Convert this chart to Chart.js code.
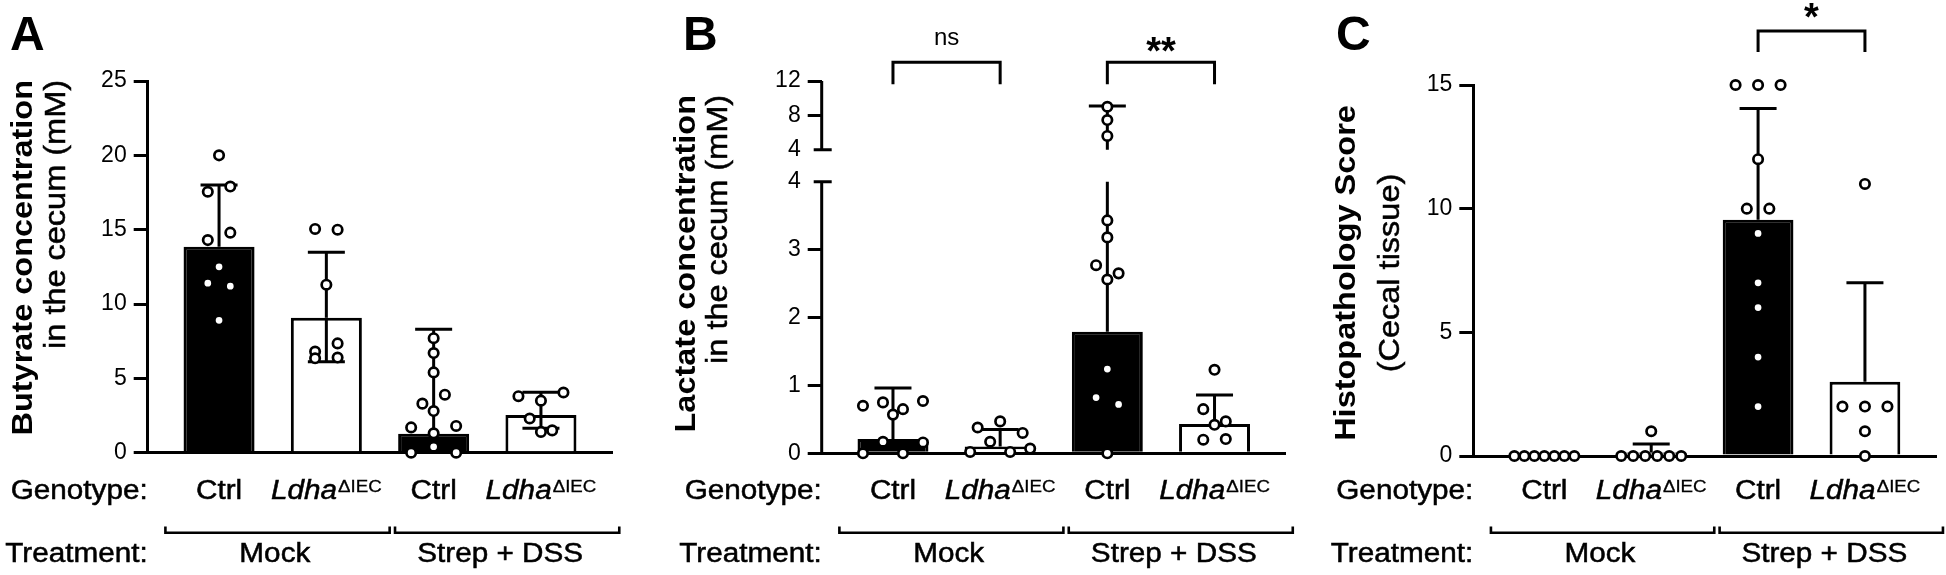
<!DOCTYPE html>
<html>
<head>
<meta charset="utf-8">
<script src="https://cdn.jsdelivr.net/npm/chart.js@4.4.1/dist/chart.umd.min.js"></script>
<style>
  html, body { margin: 0; padding: 0; background: #fff; }
  body { width: 1946px; height: 575px; position: relative; overflow: hidden; }
  canvas { position: absolute; top: 0; }
</style>
</head>
<body>
<canvas id="chartA" width="660" height="575" style="left:0px"></canvas>
<canvas id="chartB" width="640" height="575" style="left:660px"></canvas>
<canvas id="chartC" width="646" height="575" style="left:1300px"></canvas>
<script>
// ---- data ----
const genotypes = ['Ctrl', 'Ldha', 'Ctrl', 'Ldha'];
const genotypeSup = ['', 'ΔIEC', '', 'ΔIEC'];
const treatments = ['Mock', 'Strep + DSS'];

// A: butyrate (mM)
const butyrateMean = [13.85, 9.08, 1.28, 2.54];
const butyrateHigh = [18.0, 13.48, 8.3, 4.06];
const butyrateLow = [null, 6.12, null, 1.64];
const butyratePoints = [
  [20.0, 17.55, 17.9, 14.3, 14.8, 12.5, 11.4, 11.2, 8.9],
  [15.05, 15.0, 11.3, 6.8, 7.35, 6.35, 6.4],
  [7.7, 6.7, 5.4, 3.3, 3.9, 2.8, 1.7, 1.3, 1.8, 0, 0.4, 0],
  [3.8, 3.5, 4.05, 2.3, 1.4, 1.5]
];
const butyrateTicks = [0, 5, 10, 15, 20, 25];

// B: lactate (mM), axis broken at 4
const lactateMean = [0.21, 0.10, 1.79, 0.43];
const lactateHigh = [0.96, 0.35, 9.1, 0.86];
const lactateLow = [null, null, null, null];
const lactatePoints = [
  [0.70, 0.75, 0.65, 0.77, 0.57, 0, 0.17, 0, 0.16],
  [0.38, 0.47, 0.30, 0.02, 0.17, 0.02, 0.07],
  [9.0, 7.45, 5.6, 3.43, 3.18, 2.77, 2.65, 2.56, 1.24, 0.82, 0.72, 0],
  [1.23, 0.65, 0.42, 0.47, 0.20, 0.21]
];
const lactateTicksLow = [0, 1, 2, 3, 4];
const lactateTicksHigh = [4, 8, 12];

// C: histopathology score
const histoMean = [0, 0.14, 9.55, 3.0];
const histoHigh = [null, 0.49, 14.05, 7.0];
const histoLow = [null, null, null, null];
const histoPoints = [
  [0, 0, 0, 0, 0, 0, 0],
  [0, 0, 0, 1, 0, 0, 0],
  [15, 15, 15, 12, 10, 10, 9, 7, 6, 4, 2],
  [11, 2, 2, 2, 1, 0]
];
const histoTicks = [0, 5, 10, 15];

// ---- look ----
const FONT = "'Liberation Sans', Arial, Helvetica, sans-serif";
const H = 575;
const LINE = 3;
const Y_AXIS_W = 80;
const X_MIN = -0.665, X_MAX = 3.665;
const CAP = 18.5;
const SX = 1.1;
const STEP = 22.5, SPAN = 60, ROW_TOL = 12.5;
const BAR_FILL = ['#000', '#fff', '#000', '#fff'];
const GROUP_SPANS = [[-0.5, 1.59], [1.64, 3.73]];
const TREAT_CENTERS = [0.52, 2.62];

Chart.defaults.font.family = FONT;
Chart.defaults.color = '#000';

// linear scale with a gap, used by panel B
const LinearScale = Chart.LinearScale || Chart.registry.getScale('linear');
class BrokenLinearScale extends LinearScale {
  getPixelForValue(value) {
    const brk = this.options.brk;
    if (!brk) return super.getPixelForValue(value);
    let dec;
    if (value <= brk.at) dec = (value - this.min) / (brk.at - this.min) * brk.lowFrac;
    else dec = brk.highFrac + (value - brk.at) / (this.max - brk.at) * (1 - brk.highFrac);
    return this.getPixelForDecimal(dec);
  }
  getValueForPixel(pixel) {
    const brk = this.options.brk;
    const dec = this.getDecimalForPixel(pixel);
    if (dec <= brk.lowFrac) return this.min + dec / brk.lowFrac * (brk.at - this.min);
    return brk.at + (dec - brk.highFrac) / (1 - brk.highFrac) * (this.max - brk.at);
  }
}
BrokenLinearScale.id = 'brokenLinear';
BrokenLinearScale.defaults = LinearScale.defaults;
Chart.register(BrokenLinearScale);

// text with a horizontal stretch; a hairline stroke makes it a bit heavier
function text(ctx, str, x, y, font, align, sx, heavy) {
  ctx.save();
  ctx.font = font;
  const w = ctx.measureText(str).width * sx;
  let x0 = x;
  if (align === 'center') x0 = x - w / 2;
  else if (align === 'right') x0 = x - w;
  ctx.translate(x0, y);
  ctx.scale(sx, 1);
  ctx.textAlign = 'left';
  ctx.fillText(str, 0, 0);
  if (heavy) {
    ctx.lineWidth = heavy;
    ctx.strokeText(str, 0, 0);
  }
  ctx.restore();
  return w;
}

const panels = [
  {
    canvas: 'chartA', letter: 'A', letterX: 10, width: 660,
    area: { left: 147.7, right: 612.3, top: 81, bottom: 452.7 },
    means: butyrateMean, high: butyrateHigh, low: butyrateLow, points: butyratePoints,
    yMax: 25, tickValues: butyrateTicks,
    title: ['Butyrate concentration', 'in the cecum (mM)'],
    titleX: [24, 57], titleY: 80, titleAlign: 'right',
    sig: []
  },
  {
    canvas: 'chartB', letter: 'B', letterX: 23, width: 640,
    area: { left: 161.7, right: 625.8, top: 81, bottom: 453.3 },
    means: lactateMean, high: lactateHigh, low: lactateLow, points: lactatePoints,
    yMax: 12, brk: { at: 4, lowFrac: 0.7295, highFrac: 0.8155 },
    tickValues: lactateTicksLow.concat(lactateTicksHigh.map(v => v === 4 ? 4 + 1e-6 : v)),
    title: ['Lactate concentration', 'in the cecum (mM)'],
    titleX: [27, 59], titleY: 95, titleAlign: 'right',
    sig: [
      { from: 0, to: 1, label: 'ns', font: '24px', labelY: 45 },
      { from: 2, to: 3, label: '**', font: 'bold 38px', labelY: 64 }
    ],
    sigY: 62.3, sigLeg: 22
  },
  {
    canvas: 'chartC', letter: 'C', letterX: 36, width: 646,
    area: { left: 173.3, right: 636, top: 85, bottom: 456 },
    means: histoMean, high: histoHigh, low: histoLow, points: histoPoints,
    yMax: 15, tickValues: histoTicks,
    title: ['Histopathology Score', '(Cecal tissue)'],
    titleX: [46.5, 90.5], titleY: 273, titleAlign: 'center',
    sig: [
      { from: 2, to: 3, label: '*', font: 'bold 38px', labelY: 30 }
    ],
    sigY: 31, sigLeg: 21
  }
];

function errorBars(p) {
  return {
    id: 'errorBars',
    afterDatasetDraw(chart, args) {
      if (args.index !== 0) return;
      const ctx = chart.ctx, x = chart.scales.x, y = chart.scales.y, brk = y.options.brk;
      ctx.save();
      ctx.strokeStyle = '#000';
      ctx.lineWidth = LINE;
      p.means.forEach((m, i) => {
        const px = x.getPixelForValue(i);
        [p.high[i], p.low[i]].forEach(end => {
          if (end == null) return;
          ctx.beginPath();
          if (brk && end > brk.at && m < brk.at) {
            ctx.moveTo(px, y.getPixelForValue(m));
            ctx.lineTo(px, y.getPixelForValue(brk.at));
            ctx.moveTo(px, y.getPixelForValue(brk.at + 1e-6));
            ctx.lineTo(px, y.getPixelForValue(end));
          } else {
            ctx.moveTo(px, y.getPixelForValue(m));
            ctx.lineTo(px, y.getPixelForValue(end));
          }
          const py = y.getPixelForValue(end);
          ctx.moveTo(px - CAP, py);
          ctx.lineTo(px + CAP, py);
          ctx.stroke();
        });
      });
      ctx.restore();
    }
  };
}

const brokenAxis = {
  id: 'brokenAxis',
  beforeDatasetsDraw(chart) {
    const y = chart.scales.y, brk = y.options.brk;
    if (!brk) return;
    const ctx = chart.ctx, ax = chart.chartArea.left;
    const pLow = y.getPixelForValue(brk.at), pHigh = y.getPixelForValue(brk.at + 1e-6);
    ctx.save();
    ctx.strokeStyle = '#000';
    ctx.lineWidth = LINE;
    ctx.beginPath();
    ctx.moveTo(ax, y.getPixelForValue(y.min));
    ctx.lineTo(ax, pLow);
    ctx.moveTo(ax, pHigh);
    ctx.lineTo(ax, y.getPixelForValue(y.max));
    [pLow, pHigh].forEach(py => { ctx.moveTo(ax - 8, py); ctx.lineTo(ax + 10, py); });
    ctx.stroke();
    ctx.restore();
  }
};

function annotations(p) {
  return {
    id: 'annotations',
    afterDraw(chart) {
      const ctx = chart.ctx, x = chart.scales.x, area = chart.chartArea;
      ctx.save();
      ctx.fillStyle = '#000';
      ctx.strokeStyle = '#000';
      ctx.textBaseline = 'alphabetic';

      text(ctx, p.letter, p.letterX, 50, `bold 48px ${FONT}`, 'left', 1);

      // y title, two lines
      p.title.forEach((t, k) => {
        ctx.save();
        ctx.translate(p.titleX[k], p.titleY);
        ctx.rotate(-Math.PI / 2);
        ctx.textBaseline = 'middle';
        text(ctx, t, 0, 0, `${k === 0 ? 'bold ' : ''}29px ${FONT}`, p.titleAlign, 1.12, k === 0 ? 0 : 0.5);
        ctx.restore();
      });

      // genotype row
      text(ctx, 'Genotype:', area.left, 499.3, `27px ${FONT}`, 'right', SX, 0.5);
      genotypes.forEach((g, i) => {
        const cx = x.getPixelForValue(i);
        const sup = genotypeSup[i];
        const mainFont = `${sup ? 'italic ' : ''}27px ${FONT}`;
        const supFont = `17px ${FONT}`;
        ctx.font = mainFont;
        const w1 = ctx.measureText(g).width * SX;
        ctx.font = supFont;
        const w2 = sup ? ctx.measureText(sup).width * SX + 1 : 0;
        const start = cx - (w1 + w2) / 2;
        text(ctx, g, start, 499.3, mainFont, 'left', SX, 0.5);
        if (sup) text(ctx, sup, start + w1 + 1, 492.3, supFont, 'left', SX, 0.3);
      });

      // treatment brackets
      ctx.lineWidth = 2.6;
      GROUP_SPANS.forEach(([a, b], k) => {
        const x1 = x.getPixelForValue(a), x2 = x.getPixelForValue(b);
        ctx.beginPath();
        ctx.moveTo(x1, 526.5);
        ctx.lineTo(x1, 532.7);
        ctx.lineTo(x2, 532.7);
        ctx.lineTo(x2, 526.5);
        ctx.stroke();
        text(ctx, treatments[k], x.getPixelForValue(TREAT_CENTERS[k]), 561.7, `27px ${FONT}`, 'center', SX, 0.5);
      });
      text(ctx, 'Treatment:', area.left, 561.7, `27px ${FONT}`, 'right', SX, 0.5);

      // significance brackets
      ctx.lineWidth = LINE;
      p.sig.forEach(s => {
        const x1 = x.getPixelForValue(s.from), x2 = x.getPixelForValue(s.to);
        ctx.beginPath();
        ctx.moveTo(x1, p.sigY + p.sigLeg);
        ctx.lineTo(x1, p.sigY);
        ctx.lineTo(x2, p.sigY);
        ctx.lineTo(x2, p.sigY + p.sigLeg);
        ctx.stroke();
        text(ctx, s.label, (x1 + x2) / 2, s.labelY, `${s.font} ${FONT}`, 'center', 1);
      });
      ctx.restore();
    }
  };
}

// spread overlapping points sideways, rows centred on the bar
function spreadPoints(chart, groups) {
  const x = chart.scales.x, y = chart.scales.y;
  const unit = x.getPixelForValue(1) - x.getPixelForValue(0);
  const data = [];
  groups.forEach((vals, g) => {
    const items = vals.map((v, i) => ({ v, i, py: y.getPixelForValue(v), dx: 0 }));
    const sorted = items.slice().sort((a, b) => a.py - b.py || a.i - b.i);
    const rows = [];
    sorted.forEach(it => {
      const row = rows[rows.length - 1];
      if (row && it.py - row[0].py < ROW_TOL) row.push(it);
      else rows.push([it]);
    });
    rows.forEach(row => {
      row.sort((a, b) => a.i - b.i);
      const step = row.length > 1 ? Math.min(STEP, SPAN / (row.length - 1)) : 0;
      row.forEach((it, k) => { it.dx = (k - (row.length - 1) / 2) * step; });
    });
    items.forEach(it => data.push({ x: g + it.dx / unit, y: it.v }));
  });
  chart.data.datasets[1].data = data;
  chart.update('none');
}

function makeChart(p) {
  const brk = p.brk || null;
  const isBreakTick = v => brk && Math.abs(v - brk.at) < 1e-3;
  const chart = new Chart(document.getElementById(p.canvas), {
    type: 'bar',
    data: {
      datasets: [
        {
          type: 'bar',
          data: p.means.map((v, i) => ({ x: i, y: v })),
          backgroundColor: BAR_FILL,
          borderColor: '#000',
          borderWidth: LINE,
          borderSkipped: 'start',
          barPercentage: 0.662,
          categoryPercentage: 1,
          order: 1,
          clip: false
        },
        {
          type: 'scatter',
          data: p.points.flatMap((vals, g) => vals.map(v => ({ x: g, y: v }))),
          showLine: false,
          pointRadius: 4.7,
          pointHoverRadius: 4.7,
          pointBorderWidth: 2.7,
          pointBackgroundColor: '#fff',
          pointBorderColor: '#000',
          order: 0,
          clip: false
        }
      ]
    },
    options: {
      responsive: false,
      devicePixelRatio: 1,
      animation: false,
      events: [],
      layout: {
        padding: {
          left: p.area.left - Y_AXIS_W,
          right: p.width - p.area.right,
          top: p.area.top,
          bottom: H - p.area.bottom
        }
      },
      plugins: { legend: { display: false }, tooltip: { enabled: false } },
      scales: {
        x: {
          type: 'linear',
          min: X_MIN,
          max: X_MAX,
          offset: false,
          afterBuildTicks: s => { s.ticks = genotypes.map((_, i) => ({ value: i })); },
          afterFit: s => { s.height = 0; },
          grid: { display: false, drawTicks: false, offset: false },
          ticks: { display: false },
          border: { display: true, color: '#000', width: LINE }
        },
        y: {
          type: brk ? 'brokenLinear' : 'linear',
          min: 0,
          max: p.yMax,
          brk: brk,
          afterBuildTicks: s => { s.ticks = p.tickValues.map(v => ({ value: v })); },
          afterFit: s => { s.width = Y_AXIS_W; },
          border: { display: !brk, color: '#000', width: LINE },
          grid: {
            drawOnChartArea: false,
            drawTicks: true,
            tickLength: 14,
            lineWidth: LINE,
            tickWidth: LINE,
            color: '#000',
            tickColor: ctx => (ctx.tick && isBreakTick(ctx.tick.value)) ? 'rgba(0,0,0,0)' : '#000'
          },
          ticks: {
            autoSkip: false,
            padding: 7,
            color: '#000',
            font: { size: 23 },
            callback: v => Math.round(v)
          }
        }
      }
    },
    plugins: [errorBars(p), brokenAxis, annotations(p)]
  });
  spreadPoints(chart, p.points);
  return chart;
}

panels.forEach(makeChart);
</script>
</body>
</html>
